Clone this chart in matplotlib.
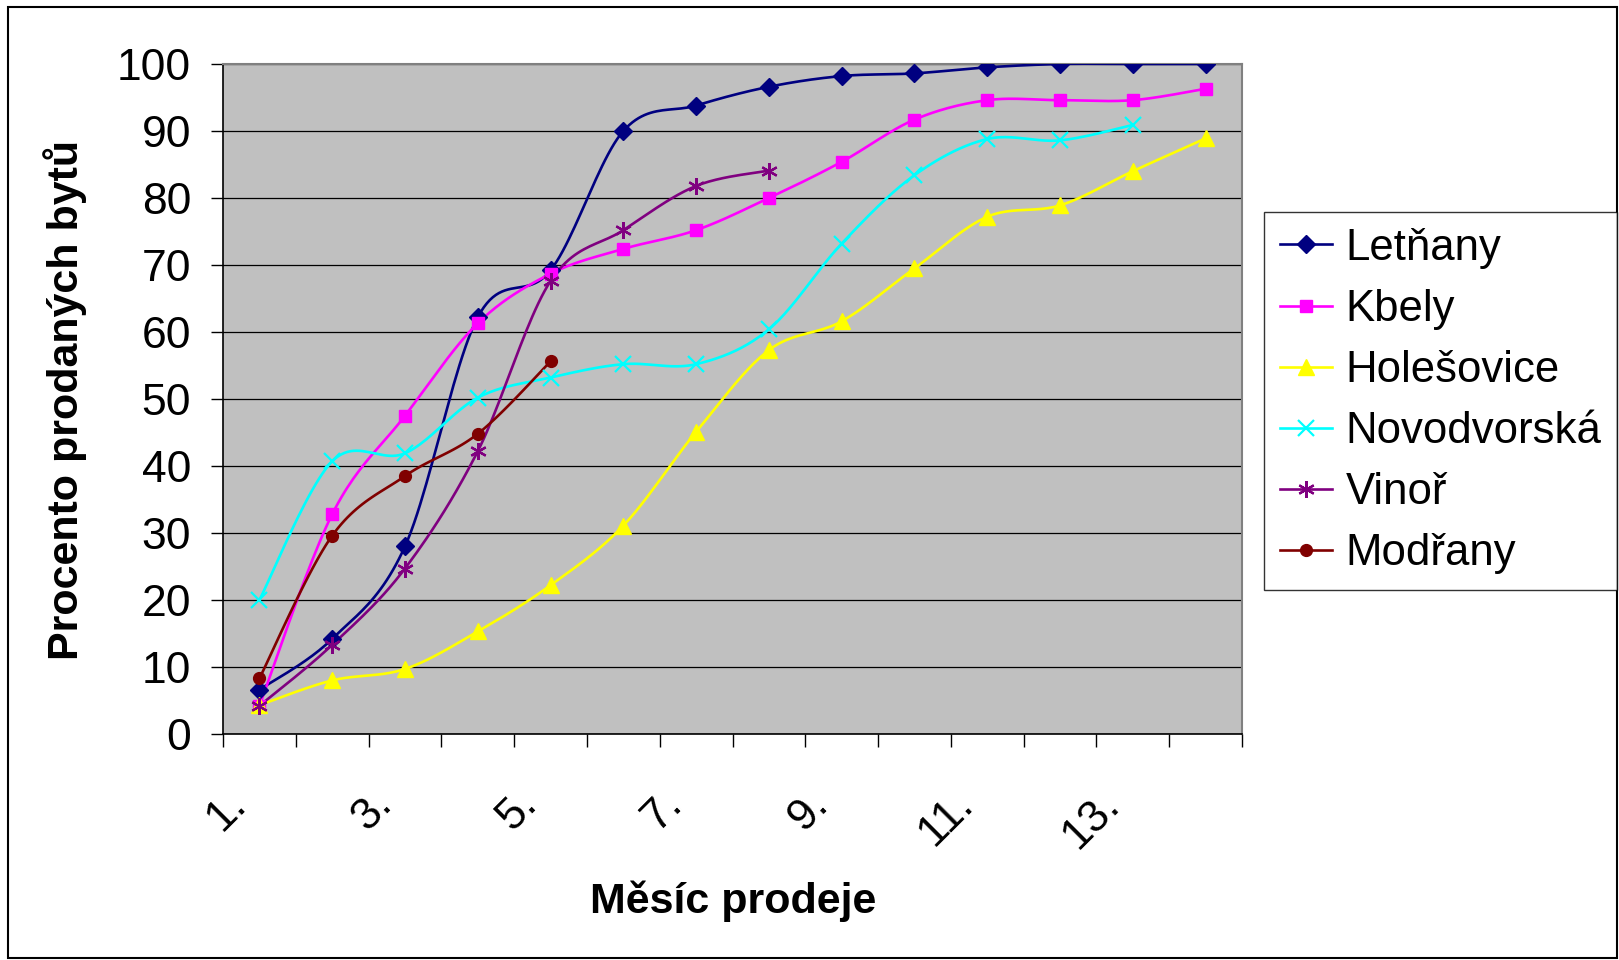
import numpy as np
import matplotlib
matplotlib.use("Agg")
import matplotlib.pyplot as plt
from matplotlib import transforms
from matplotlib.lines import Line2D
from matplotlib.patches import Rectangle

plt.rcParams['font.family'] = ['Liberation Sans', 'DejaVu Sans']

# Sales month categories and labels shown on the axis
months = list(range(1, 15))
month_labels = ["1.", "3.", "5.", "7.", "9.", "11.", "13."]
labelled_months = [1, 3, 5, 7, 9, 11, 13]

# Cumulative share of sold flats (%) per project
letnany = [6.6, 14.2, 28.0, 62.2, 69.2, 90.0, 93.8, 96.6, 98.2, 98.6, 99.5, 100, 100, 100]
kbely = [4.2, 32.8, 47.5, 61.3, 68.7, 72.4, 75.2, 80.0, 85.4, 91.7, 94.6, 94.6, 94.6, 96.3]
holesovice = [4.3, 8.0, 9.7, 15.3, 22.2, 31.1, 45.1, 57.3, 61.6, 69.5, 77.2, 78.9, 84.0, 88.9]
novodvorska = [20.0, 40.7, 41.9, 50.2, 53.2, 55.2, 55.2, 60.4, 73.2, 83.4, 88.8, 88.6, 90.9]
vinor = [4.2, 13.3, 24.7, 42.2, 67.6, 75.2, 81.8, 84.1]
modrany = [8.3, 29.6, 38.5, 44.8, 55.6]

# name, values, colour, marker, marker size
series = [
    ("Letňany", letnany, "#000080", "D", 9.0),
    ("Kbely", kbely, "#FF00FF", "s", 9.0),
    ("Holešovice", holesovice, "#FFFF00", "^", 11.0),
    ("Novodvorská", novodvorska, "#00FFFF", "x", 11.0),
    ("Vinoř", vinor, "#800080", (6, 2, 0), 12.0),
    ("Modřany", modrany, "#800000", "o", 8.5),
]


def smooth(xs, ys, steps=24):
    """Catmull-Rom style Bezier smoothing through the given points."""
    p = np.column_stack([xs, ys]).astype(float)
    n = len(p)
    if n < 3:
        return p[:, 0], p[:, 1]
    ext = np.vstack([p[0], p, p[-1]])
    out = []
    t = np.linspace(0, 1, steps, endpoint=False)[:, None]
    for i in range(n - 1):
        p0, p1, p2, p3 = ext[i], ext[i + 1], ext[i + 2], ext[i + 3]
        c1 = p1 + (p2 - p0) / 6.0
        c2 = p2 - (p3 - p1) / 6.0
        seg = ((1 - t) ** 3) * p1 + 3 * ((1 - t) ** 2) * t * c1 + 3 * (1 - t) * t ** 2 * c2 + t ** 3 * p2
        out.append(seg)
    out.append(p[-1][None, :])
    arr = np.vstack(out)
    return arr[:, 0], arr[:, 1]


fig = plt.figure(figsize=(16.19, 9.60), dpi=100)
W, H = 1619, 960
ax = fig.add_axes([223 / W, 1 - 734 / H, (1242 - 223) / W, (734 - 64) / H])
ax.set_facecolor("#C0C0C0")

handles = []
for name, vals, color, marker, ms in series:
    xs = months[:len(vals)]
    mew = 1.6 if marker in ("x", (6, 2, 0)) else 1.0
    sx, sy = smooth(xs, vals)
    ax.plot(sx, sy, color=color, lw=1.9, zorder=3)
    ax.plot(xs, vals, linestyle="none", marker=marker, color=color,
            markersize=ms, markeredgewidth=mew, zorder=4)
    handles.append(Line2D([], [], color=color, lw=1.9, marker=marker, markersize=ms,
                          markeredgewidth=mew, label=name))

ax.set_xlim(0.5, 14.5)
ax.set_ylim(0, 100)
ax.set_yticks(np.arange(0, 101, 10))
ax.yaxis.grid(True, color="black", lw=0.9)
ax.set_axisbelow(True)
ax.tick_params(axis="y", direction="out", length=9, width=1, labelsize=32, pad=14, colors="black")
ax.set_xticks(np.arange(0.5, 15, 1))
ax.set_xticklabels([])
ax.tick_params(axis="x", direction="out", length=9, width=1)

for side in ("top", "right"):
    ax.spines[side].set_color("#808080")
    ax.spines[side].set_linewidth(1.5)
for side in ("left", "bottom"):
    ax.spines[side].set_color("black")
    ax.spines[side].set_linewidth(1.2)

# Rotated month labels below the axis
base = transforms.blended_transform_factory(ax.transData, ax.transAxes)
off = transforms.ScaledTranslation(-20 / 100, -64 / 100, fig.dpi_scale_trans)
for m, lab in zip(labelled_months, month_labels):
    ax.text(m, 0, lab, transform=base + off, rotation=45, rotation_mode="anchor",
            ha="right", va="center", fontsize=32)

fig.text(733 / W, 1 - 901 / H, "Měsíc prodeje", ha="center", va="center",
         fontsize=31, fontweight="bold")
fig.text(65 / W, 1 - 400 / H, "Procento prodaných bytů", ha="center", va="center",
         rotation=90, fontsize=31, fontweight="bold")

leg = fig.legend(handles=handles, loc="upper left", bbox_to_anchor=(1264 / W, 1 - 212 / H),
                 frameon=True, fancybox=False, fontsize=31.5, handlelength=1.2,
                 handletextpad=0.3, labelspacing=0.46, borderpad=0.36, borderaxespad=0)
leg.get_frame().set_edgecolor("black")
leg.get_frame().set_linewidth(1.0)

fig.patches.append(Rectangle((8 / W, 2 / H), (1617 - 8) / W, (953 - 2) / H,
                             transform=fig.transFigure, fill=False, edgecolor="black", lw=1.5))

fig.savefig("out.png", dpi=100, facecolor="white")
